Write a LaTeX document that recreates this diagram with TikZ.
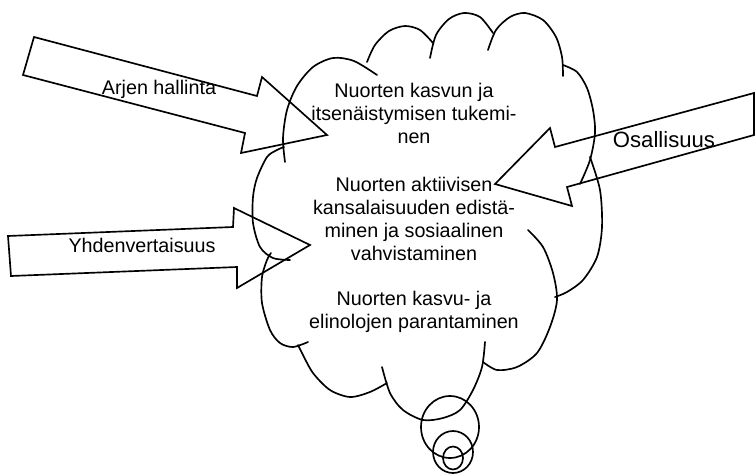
\documentclass[tikz,border=0pt]{standalone}
\usepackage{fontspec}
\setmainfont{Liberation Sans}

\tikzset{every picture/.style={line width=0.75pt}}
\tikzset{
  cloudarc/.style={line width=1.25pt, line cap=round},
  blockarrow/.style={line width=1.25pt, line join=miter},
  lbl/.style={font=\fontsize{14.8}{17.25}\selectfont, inner sep=0pt},
  cloudtext/.style={lbl, align=center},
}

\begin{document}
\begin{tikzpicture}[x=0.75pt,y=0.75pt,yscale=-1,xscale=1]
	\useasboundingbox (0,0) rectangle (756,475);

	%Shape: Block Arrow [Arjen hallinta]
	\draw [blockarrow] (34,37) -- (257,96) -- (262,77) -- (327,135) -- (241,153) -- (245,133) -- (23,75) -- cycle ;
	%Shape: Block Arrow [Yhdenvertaisuus]
	\draw [blockarrow] (8,236) -- (233,227) -- (234,208) -- (310,245) -- (237,288) -- (237,267) -- (11,276) -- cycle ;
	%Shape: Block Arrow [Osallisuus]
	\draw [blockarrow] (754,93) -- (555,147) -- (550,128) -- (495,184) -- (572,206) -- (567,187) -- (754,135) -- cycle ;

	%Shape: Cloud Callout [bumps]
	\draw [cloudarc] plot [smooth] coordinates {(285,162) (283,138) (287,110) (297,86) (313,67) (333,58) (354,61) (377,75)} ;
	\draw [cloudarc] plot [smooth] coordinates {(367,62) (375,45) (389,31) (405,26) (420,30) (433,43)} ;
	\draw [cloudarc] plot [smooth] coordinates {(430,58) (436,35) (449,19) (464,13) (480,17) (493,33)} ;
	\draw [cloudarc] plot [smooth] coordinates {(488,50) (496,30) (510,17) (525,13) (543,20) (556,37) (562,57) (563,76)} ;
	\draw [cloudarc] plot [smooth] coordinates {(563,65) (577,72) (587,88) (593,110) (595,133) (590,160) (580,184)} ;
	\draw [cloudarc] plot [smooth] coordinates {(590,157) (600,190) (602,227) (597,257) (583,280) (567,292) (555,297)} ;
	\draw [cloudarc] plot [smooth] coordinates {(528,230) (543,247) (553,273) (557,300) (550,327) (537,353) (517,367) (497,370) (483,362)} ;
	\draw [cloudarc] plot [smooth] coordinates {(485,342) (482,367) (473,390) (460,410) (443,418) (423,420) (403,410) (390,393) (382,367)} ;
	\draw [cloudarc] plot [smooth] coordinates {(387,383) (370,392) (350,397) (330,390) (313,373) (302,353) (298,345)} ;
	\draw [cloudarc] plot [smooth] coordinates {(308,342) (293,347) (280,343) (270,330) (262,303) (262,277) (267,260) (271,253)} ;
	\draw [cloudarc] plot [smooth] coordinates {(290,260) (273,258) (260,247) (253,223) (253,197) (257,178) (267,157) (277,150) (284,147)} ;

	%Shape: Ellipse [thought bubbles]
	\draw [cloudarc] (450,427) ellipse (29 and 31) ;
	\draw [cloudarc] (453,452) ellipse (20 and 21) ;
	\draw [cloudarc] (453,458) ellipse (10 and 11.5) ;

	% Text Node
	\draw (159,89) node (arjen) [lbl] {Arjen hallinta};
	% Text Node
	\draw (142,245) node (yhden) [lbl] {Yhdenvertaisuus};
	% Text Node
	\draw (664,140) node (osall) [lbl, font=\fontsize{16.6}{20}\selectfont] {Osallisuus};
	% Text Node
	\draw (414,113.5) node (tukeminen) [cloudtext] {Nuorten kasvun ja\\itsenäistymisen tukemi-\\nen};
	% Text Node
	\draw (414,218.5) node (kansalaisuus) [cloudtext] {Nuorten aktiivisen\\kansalaisuuden edistä-\\minen ja sosiaalinen\\vahvistaminen};
	% Text Node
	\draw (414,311.5) node (elinolot) [cloudtext] {Nuorten kasvu- ja\\elinolojen parantaminen};

\end{tikzpicture}
\end{document}
